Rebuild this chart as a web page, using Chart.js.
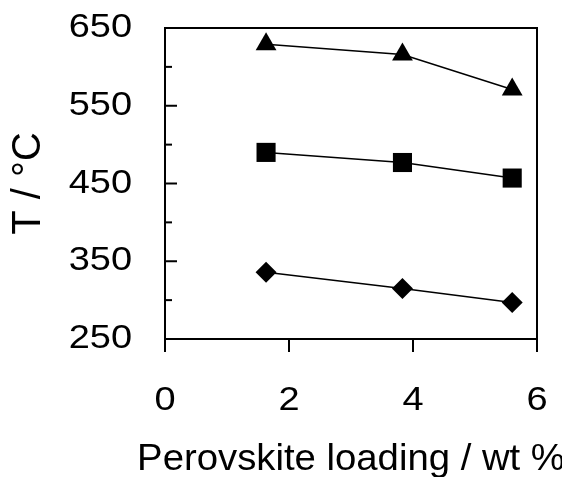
<!DOCTYPE html>
<html>
<head>
<meta charset="utf-8">
<script src="https://cdn.jsdelivr.net/npm/chart.js@4/dist/chart.umd.min.js"></script>
<style>
  body { margin: 0; background: #fff; }
  #chart { display: block; }
</style>
</head>
<body>
<canvas id="chart" width="562" height="477"></canvas>
<script>
// data
const loading = [1.63, 3.83, 5.6]
const triangleT = [629, 616, 571]
const squareT = [490, 477, 457]
const diamondT = [336, 315, 297]

const xTicks = [0, 2, 4, 6]
const yTicks = [250, 300, 350, 400, 450, 500, 550, 600, 650]
const yLabelled = [250, 350, 450, 550, 650]

function toPoints(ys){
    return ys.map((v, i) => ({x: loading[i], y: v}))
}

// the original's lettering is a bit wider than Liberation Sans,
// so unrotated text gets stretched sideways around its anchor
const wideText = {
    id: 'wideText',
    beforeDraw(chart){
        const ctx = chart.ctx
        if (ctx._wide) return
        ctx._wide = true
        const orig = ctx.fillText.bind(ctx)
        ctx.fillText = function(text, x, y, maxW){
            const m = ctx.getTransform()
            if (m.b !== 0 || m.c !== 0) return orig(text, x, y, maxW)
            ctx.save()
            ctx.translate(x, y)
            ctx.scale(1.15, 1)
            orig(text, 0, 0, maxW)
            ctx.restore()
        }
    }
}

// frame on top/right + inward ticks on the y axis
const frameAndTicks = {
    id: 'frameAndTicks',
    afterDraw(chart){
        const ctx = chart.ctx
        const {left, top, right, bottom} = chart.chartArea
        const y = chart.scales.y
        ctx.save()
        ctx.strokeStyle = '#000'
        ctx.lineWidth = 2
        ctx.beginPath()
        ctx.moveTo(left, top)
        ctx.lineTo(right, top)
        ctx.lineTo(right, bottom)
        ctx.stroke()
        yTicks.forEach(v => {
            const py = y.getPixelForValue(v)
            const len = yLabelled.includes(v) ? 12 : 7
            ctx.beginPath()
            ctx.moveTo(left, py)
            ctx.lineTo(left + len, py)
            ctx.stroke()
        })
        ctx.restore()
    }
}

const font = "'Liberation Sans', Arial, sans-serif"

const lineDs = (label, ys, style, r) => ({
    label: label,
    data: toPoints(ys),
    borderColor: '#000',
    backgroundColor: '#000',
    borderWidth: 1.5,
    pointStyle: style,
    pointRadius: r,
    pointHoverRadius: r,
    pointBorderWidth: 0,
    tension: 0
})

// no extra padding from tick labels, the box is placed by hand
function noPad(s){
    s.paddingTop = 0
    s.paddingBottom = 0
    s.paddingLeft = 0
    s.paddingRight = 0
}

new Chart(document.getElementById('chart'), {
    type: 'line',
    data: {
        datasets: [
            lineDs('Series 1', triangleT, 'triangle', 12),
            lineDs('Series 2', squareT, 'rect', 13.5),
            lineDs('Series 3', diamondT, 'rectRot', 10.5)
        ]
    },
    options: {
        responsive: false,
        animation: false,
        devicePixelRatio: 1,
        clip: false,
        layout: { padding: { top: 28, right: 25, left: 0, bottom: 0 } },
        plugins: { legend: { display: false }, tooltip: { enabled: false } },
        scales: {
            x: {
                type: 'linear',
                min: 0,
                max: 6,
                afterFit: s => { s.height = 138; noPad(s) },
                afterBuildTicks: s => { s.ticks = xTicks.map(v => ({value: v})) },
                border: { display: true, color: '#000', width: 2 },
                grid: { display: true, drawOnChartArea: false, drawTicks: true, tickLength: 13, color: '#000', lineWidth: 2 },
                ticks: { color: '#000', font: { family: font, size: 33 }, padding: 29, maxRotation: 0, autoSkip: false },
                title: {
                    display: true,
                    text: 'Perovskite loading / wt %',
                    color: '#000',
                    font: { family: font, size: 37, lineHeight: 1 },
                    padding: { top: 0, bottom: -1 }
                }
            },
            y: {
                type: 'linear',
                min: 250,
                max: 650,
                afterFit: s => { s.width = 165; noPad(s) },
                afterBuildTicks: s => { s.ticks = yLabelled.map(v => ({value: v})) },
                border: { display: true, color: '#000', width: 2 },
                grid: { display: true, drawOnChartArea: false, drawTicks: false },
                ticks: {
                    color: '#000',
                    font: { family: font, size: 33 },
                    padding: 33,
                    autoSkip: false
                },
                title: {
                    display: true,
                    text: 'T / °C',
                    color: '#000',
                    font: { family: font, size: 40, lineHeight: 1 },
                    padding: { top: 9, bottom: 0 }
                }
            }
        }
    },
    plugins: [wideText, frameAndTicks]
})
</script>
</body>
</html>
